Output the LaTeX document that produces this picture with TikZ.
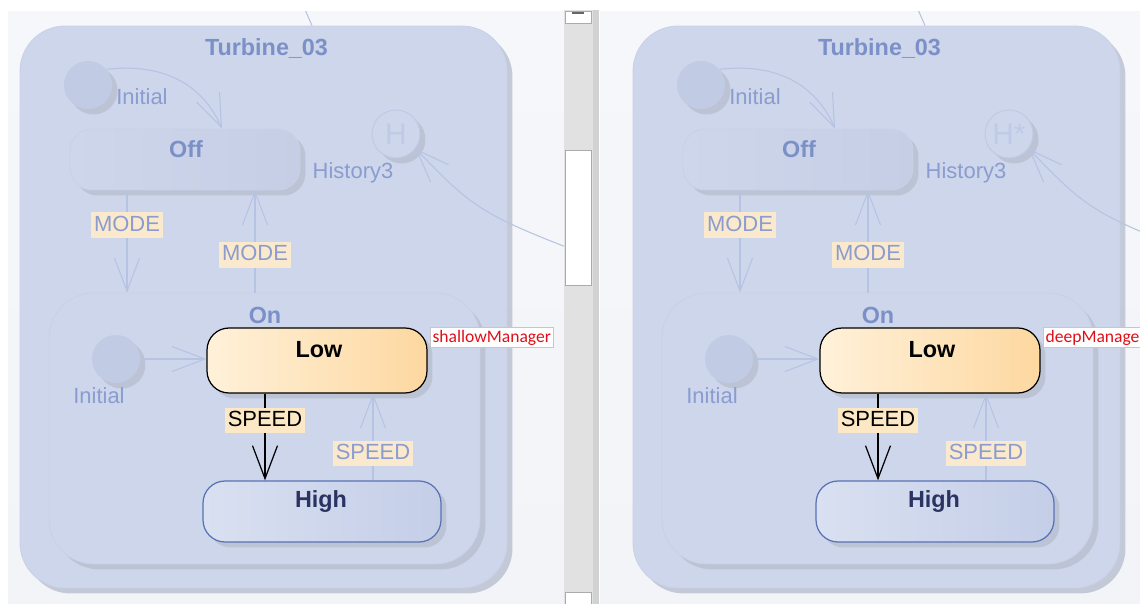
\documentclass[tikz,border=0pt]{standalone}
\usepackage{fontspec}
\setmainfont{Liberation Sans}
\newfontfamily\mgrfont{Carlito}
\usetikzlibrary{arrows.meta,calc,shadows}

\definecolor{panelbg}{HTML}{F6F7FB}
\definecolor{panelbot}{HTML}{F2F4F8}
\definecolor{compfill}{HTML}{CDD6EA}
\definecolor{compline}{HTML}{C8D1E8}
\definecolor{shadowc}{HTML}{B8BFCF}
\definecolor{offl}{HTML}{CDD6EA}
\definecolor{offr}{HTML}{C5CEE5}
\definecolor{fadetxt}{HTML}{8A9CD0}
\definecolor{fadehead}{HTML}{7C90C8}
\definecolor{fadeline}{HTML}{B6C3E3}
\definecolor{fadelbl}{HTML}{FAE9CC}
\definecolor{pseudo}{HTML}{C1CBE4}
\definecolor{histc}{HTML}{BFCAE6}
\definecolor{lowl}{HTML}{FFF1DA}
\definecolor{lowr}{HTML}{FDD8A0}
\definecolor{highl}{HTML}{D9E0F1}
\definecolor{highr}{HTML}{C4CEE7}
\definecolor{highline}{HTML}{5872B5}
\definecolor{hightxt}{HTML}{2A3362}
\definecolor{spdlbl}{HTML}{FDE8C5}
\definecolor{mgrred}{HTML}{E0101A}
\definecolor{scrollbg}{HTML}{E1E1E1}
\definecolor{scrolldk}{HTML}{D2D2D2}
\definecolor{scrolledge}{HTML}{ABABAB}

\tikzset{
  fshadow/.style={drop shadow={shadow xshift=0.11cm,shadow yshift=-0.11cm,fill=shadowc,opacity=0.8}},
  comp/.style={draw=compline,line width=0.5pt,fill=compfill,rounded corners=0.9cm,inner sep=0pt,fshadow},
  fstate/.style={draw=compline,line width=0.5pt,left color=offl,right color=offr,rounded corners=0.44cm,
    minimum width=4.6cm,minimum height=1.22cm,inner sep=0pt,fshadow},
  pseudost/.style={circle,fill=pseudo,minimum size=0.96cm,inner sep=0pt,fshadow},
  histst/.style={circle,draw=histc,line width=0.6pt,fill=compfill,minimum size=0.96cm,inner sep=0pt,
    text=histc,font=\fontsize{17}{18}\selectfont,fshadow},
  lowst/.style={draw=black,line width=0.7pt,left color=lowl,right color=lowr,rounded corners=0.44cm,
    minimum width=4.4cm,minimum height=1.3cm,inner sep=0pt,fshadow},
  highst/.style={draw=highline,line width=0.7pt,left color=highl,right color=highr,rounded corners=0.44cm,
    minimum width=4.76cm,minimum height=1.22cm,inner sep=0pt,fshadow},
  ftxt/.style={text=fadetxt,font=\fontsize{12.5}{14}\selectfont,inner sep=0pt},
  fhead/.style={text=fadehead,font=\bfseries\fontsize{13.3}{15}\selectfont,inner sep=0pt},
  stxt/.style={font=\bfseries\fontsize{13.3}{15}\selectfont,inner sep=0pt},
  fline/.style={draw=fadeline,line width=0.6pt},
  sline/.style={draw=black,line width=0.7pt},
  barb/.style={-{Straight Barb[length=0.66cm,width=0.5cm]}},
  flbl/.style={fill=fadelbl,text=fadetxt,font=\fontsize{12.5}{14}\selectfont,
    inner xsep=1.5pt,inner ysep=1.5pt,text height=9.2pt,text depth=2.4pt},
  slbl/.style={fill=spdlbl,text=black,font=\fontsize{12.5}{14}\selectfont,
    inner xsep=1.5pt,inner ysep=1.5pt,text height=9.2pt,text depth=2.4pt},
  mgr/.style={draw=black!22,fill=white,text=mgrred,font=\mgrfont\fontsize{10}{11}\selectfont,
    inner xsep=1.5pt,inner ysep=1pt,text height=7.2pt,text depth=1.8pt}
}

\begin{document}
\begin{tikzpicture}[x=0.02cm,y=-0.02cm]
\useasboundingbox (0,0) rectangle (1140,604);
\clip (0,0) rectangle (1140,604);
\fill[white] (0,0) rectangle (1140,604);
% 两个面板
\foreach \dx/\cl/\cr/\mname/\hname in {0/8/564/shallowManager/H,613/-13/527/deepManager/H*}{
\begin{scope}[shift={(\dx,0)}]
\fill[top color=panelbg,bottom color=panelbot] (\cl,12) rectangle (\cr,604);
\clip (\cl,12) rectangle (\cr,604);
% 节点定义
\node[comp,minimum width=9.74cm,minimum height=11.24cm] (tb) at (263.5,307) {};
\coordinate (topin) at ($(tb.north)+(48.5,0)$);
\draw[fline] (303,5) -- (topin);
\node[fhead] (tbt) at (266.5,48) {Turbine\_03};
\node[pseudost] (ini1) at (88,85) {};
\node[ftxt] (ini1t) at (142,97) {Initial};
\node[fstate] (off) at (185,159.5) {};
\node[fhead] (offt) at (186,149.5) {Off};
\node[histst] (hist) at (396,134) {\hname};
\node[ftxt] (histt) at (353,173) {History3};
\coordinate (hsrc) at (640,275);
\draw[fline,barb] (hsrc) .. controls (480,215) .. (hist.-37);
\node[comp,minimum width=8.62cm,minimum height=5.42cm] (on) at (264.5,428.5) {};
\node[fhead] (ont) at (265,315) {On};
\node[pseudost] (ini2) at (116,359) {};
\node[ftxt] (ini2t) at (99,396) {Initial};
\node[lowst] (low) at (317,360.5) {};
\node[stxt] (lowt) at (319,349.5) {Low};
\node[highst] (high) at (322,511.5) {};
\node[stxt,text=hightxt] (hight) at (321,502) {High};
\node[mgr,anchor=north west] (mgrn) at ($(low.north east)+(2,0)$) {\mname};
% 连线
\coordinate (oin) at ($(off.north)+(37,0)$);
\draw[fline,barb] (ini1.40) .. controls (170,62) and (205,90) .. (oin);
\coordinate (m1) at ($(off.south)+(-58,0)$);
\draw[fline,barb] (m1) -- node[flbl,pos=0.34] (mode1) {MODE} (m1 |- on.north);
\coordinate (m2) at ($(off.south)+(70,0)$);
\draw[fline,barb] (m2 |- on.north) -- node[flbl,pos=0.37] (mode2) {MODE} (m2);
\draw[fline,barb] (ini2.east) -- (ini2.east -| low.west);
\coordinate (s2) at ($(high.north)+(51,0)$);
\draw[fline,barb] (s2) -- node[flbl,pos=0.31] (spd2) {SPEED} (s2 |- low.south);
\coordinate (s1) at ($(low.south)+(-52,0)$);
\draw[sline,barb] (s1) -- node[slbl,pos=0.31] (spd1) {SPEED} (s1 |- high.north);
\end{scope}
}
% 滚动条
\fill[scrollbg] (564,10) rectangle (593,604);
\fill[scrolldk] (593,10) rectangle (599,604);
\draw[scrolledge,fill=white,line width=0.5pt] (565,11) rectangle (591,23);
\draw[black!60,line width=0.8pt] (572,13) -- (584,13);
\draw[scrolledge,fill=white,line width=0.5pt] (565,150) rectangle (591,285);
\draw[scrolledge,fill=white,line width=0.5pt] (565,592) rectangle (591,606);
\end{tikzpicture}
\end{document}
